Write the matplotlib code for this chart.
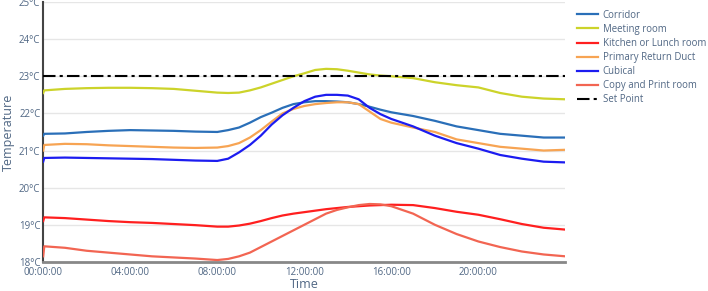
import matplotlib
matplotlib.use('Agg')
import matplotlib.pyplot as plt
import matplotlib.ticker as mticker
import numpy as np

plt.rcParams['font.family'] = ['Open Sans', 'DejaVu Sans']

# hours of the day (readings taken off the chart)
hours = [0, 0.05, 1, 2, 3, 4, 5, 6, 7, 8, 8.5, 9, 9.5, 10, 10.5, 11, 11.5, 12,
         12.5, 13, 13.5, 14, 14.5, 15, 15.5, 16, 17, 18, 19, 20, 21, 22, 23, 24]

corridor = [21.40, 21.45, 21.46, 21.50, 21.53, 21.55, 21.54, 21.53, 21.51, 21.50, 21.55, 21.62, 21.75,
            21.90, 22.02, 22.15, 22.25, 22.30, 22.33, 22.33, 22.32, 22.30, 22.25, 22.18, 22.10, 22.03,
            21.93, 21.80, 21.65, 21.55, 21.45, 21.40, 21.35, 21.35]
meeting = [22.55, 22.62, 22.66, 22.68, 22.69, 22.69, 22.68, 22.66, 22.61, 22.56, 22.55, 22.56, 22.62,
           22.70, 22.80, 22.90, 23.00, 23.08, 23.17, 23.20, 23.19, 23.15, 23.10, 23.05, 23.02, 23.00,
           22.95, 22.84, 22.76, 22.70, 22.55, 22.45, 22.40, 22.38]
kitchen = [19.10, 19.20, 19.18, 19.14, 19.10, 19.07, 19.05, 19.02, 18.99, 18.95, 18.95, 18.98, 19.03,
           19.10, 19.18, 19.25, 19.30, 19.34, 19.38, 19.42, 19.45, 19.48, 19.50, 19.52, 19.53, 19.54,
           19.53, 19.45, 19.35, 19.27, 19.15, 19.02, 18.92, 18.87]
duct = [21.00, 21.15, 21.18, 21.17, 21.14, 21.12, 21.10, 21.08, 21.07, 21.08, 21.12, 21.20, 21.35,
        21.55, 21.78, 22.00, 22.12, 22.20, 22.25, 22.28, 22.30, 22.30, 22.25, 22.05, 21.85, 21.75,
        21.62, 21.50, 21.30, 21.20, 21.10, 21.05, 21.00, 21.02]
cubical = [20.70, 20.80, 20.81, 20.80, 20.79, 20.78, 20.77, 20.75, 20.73, 20.72, 20.78, 20.95, 21.15,
           21.40, 21.70, 21.95, 22.15, 22.33, 22.45, 22.50, 22.50, 22.48, 22.38, 22.15, 21.98, 21.85,
           21.65, 21.40, 21.20, 21.05, 20.88, 20.78, 20.70, 20.68]
copyprint = [18.15, 18.42, 18.38, 18.30, 18.25, 18.20, 18.15, 18.12, 18.09, 18.05, 18.08, 18.15, 18.25,
             18.40, 18.55, 18.70, 18.85, 19.00, 19.15, 19.30, 19.40, 19.47, 19.53, 19.56, 19.55, 19.50,
             19.30, 19.00, 18.75, 18.55, 18.40, 18.28, 18.20, 18.15]
set_point = 23.0

series = [
    ("Corridor", corridor, "#2a6fb8"),
    ("Meeting room", meeting, "#ccd32a"),
    ("Kitchen or Lunch room", kitchen, "#ff1f1f"),
    ("Primary Return Duct", duct, "#f7a453"),
    ("Cubical", cubical, "#1c1cf0"),
    ("Copy and Print room", copyprint, "#f26552"),
]

tick_hours = [0, 4, 8, 12, 16, 20]
tick_labels = ["00:00:00", "04:00:00", "08:00:00", "12:00:00", "16:00:00", "20:00:00"]
y_ticks = [18, 19, 20, 21, 22, 23, 24, 25]

text_col = "#506784"

fig = plt.figure(figsize=(7.08, 2.91), dpi=100)
ax = fig.add_axes([0.061, 0.10, 0.737, 0.893])

for name, vals, col in series:
    ax.plot(hours, vals, color=col, linewidth=1.6, label=name, zorder=3)
ax.plot([0, 24], [set_point, set_point], color="black", linestyle=(0, (6, 2, 1.5, 2)),
        linewidth=1.5, label="Set Point", zorder=4)

ax.set_xlim(0, 23.98)
ax.set_ylim(18, 25)
ax.set_xticks(tick_hours)
ax.set_xticklabels(tick_labels, fontsize=7, color=text_col)
ax.set_yticks(y_ticks)
ax.yaxis.set_major_formatter(mticker.FuncFormatter(lambda v, p: f"{int(v)}°C"))
ax.tick_params(axis='y', labelsize=7, labelcolor=text_col, length=0, pad=2)
ax.tick_params(axis='x', length=0, pad=3.5)
ax.grid(True, axis='y', color="#e6e6e6", linewidth=1, zorder=0)
for side in ["top", "right"]:
    ax.spines[side].set_visible(False)
ax.spines["left"].set_color("#444444")
ax.spines["left"].set_linewidth(1.5)
ax.spines["bottom"].set_color("#888888")
ax.spines["bottom"].set_linewidth(2)

ax.set_xlabel("Time", fontsize=9, color=text_col, labelpad=0)
ax.set_ylabel("Temperature", fontsize=9, color=text_col, labelpad=3)

leg = ax.legend(loc="upper left", bbox_to_anchor=(1.015, 0.985), frameon=False, fontsize=6.9,
                handlelength=2.2, handletextpad=0.5, labelspacing=0.32, borderaxespad=0)
for t in leg.get_texts():
    t.set_color(text_col)

fig.savefig("out.png", dpi=100)
